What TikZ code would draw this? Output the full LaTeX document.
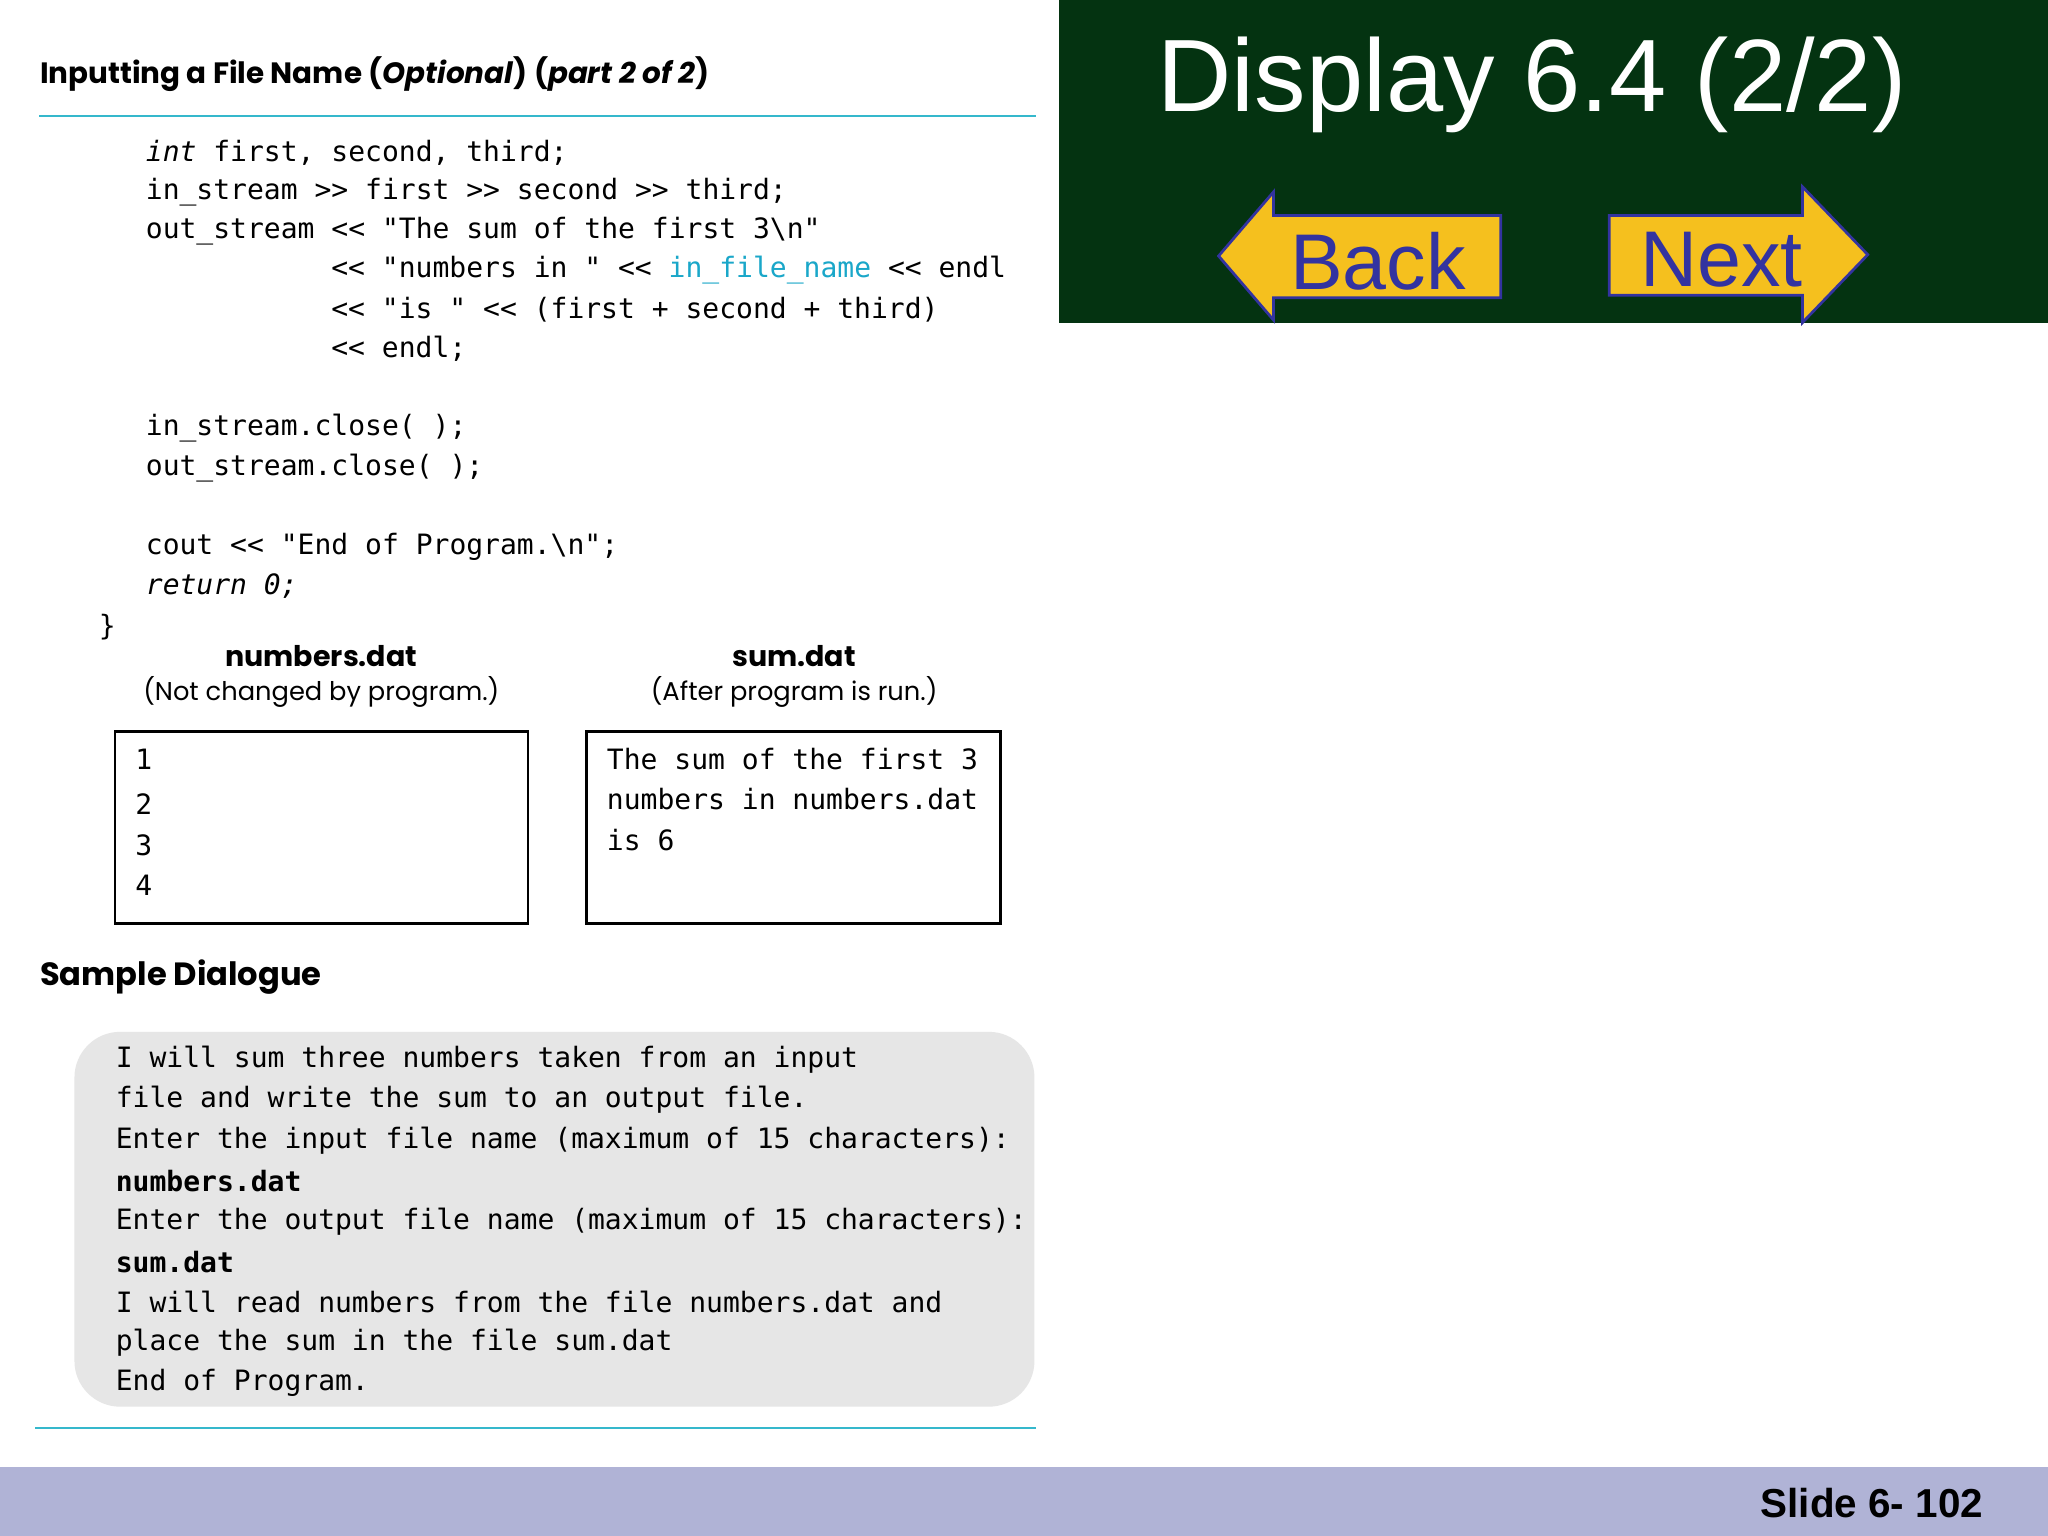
\documentclass[tikz,border=0pt]{standalone}
\usepackage{fontspec}
\setmainfont{Poppins}
\newfontfamily\cod{DejaVu Sans Mono}
\newfontfamily\ars{Liberation Sans}
\definecolor{cyanl}{HTML}{35B8CC}
\definecolor{fname}{HTML}{1AA7C9}
\definecolor{dgreen}{HTML}{043311}
\definecolor{ayel}{HTML}{F5C01E}
\definecolor{navy}{HTML}{3333A0}
\definecolor{barc}{HTML}{B0B3D6}
\definecolor{dlg}{HTML}{E6E6E6}
\begin{document}
\begin{tikzpicture}[x=0.01cm,y=-0.01cm,
  cd/.style={anchor=west,inner sep=0,font=\cod\fontsize{6.1pt}{7pt}\selectfont},
  hd/.style={anchor=west,inner sep=0,font=\bfseries\fontsize{6.4pt}{7pt}\selectfont},
  captxt/.style={inner sep=0,font=\fontsize{5.6pt}{7pt}\selectfont}]
\useasboundingbox (0,0) rectangle (1568,1176);
\fill[white] (0,0) rectangle (1568,1176);
\node[hd] (title) at (30,57) {Inputting a File Name (\textit{Optional}) (\textit{part 2 of 2})};
\draw[cyanl,line width=0.4pt] (30,89) -- (793,89);
\node[cd] (c1) at (111,117) {\textit{int} first, second, third;};
\node[cd] (c2) at (111,147) {in\_stream >> first >> second >> third;};
\node[cd] (c3) at (111,177) {out\_stream << "The sum of the first 3\textbackslash n"};
\node[cd] (c4) at (253,207) {<< "numbers in " << \textcolor{fname}{in\_file\_name} << endl};
\node[cd] (c5) at (253,237) {<< "is " << (first + second + third)};
\node[cd] (c6) at (253,267) {<< endl;};
\node[cd] (c7) at (111,328) {in\_stream.close( );};
\node[cd] (c8) at (111,358) {out\_stream.close( );};
\node[cd] (c9) at (111,419) {cout << "End of Program.\textbackslash n";};
\node[cd] (c10) at (111,449) {\textit{return 0;}};
\node[cd] (c11) at (75,480) {\}};
\node[captxt,font=\bfseries\fontsize{6.2pt}{7pt}\selectfont] (n1) at (246,502) {numbers.dat};
\node[captxt] (n2) at (246,530) {(Not changed by program.)};
\node[captxt,font=\bfseries\fontsize{6.2pt}{7pt}\selectfont] (s1) at (608,502) {sum.dat};
\node[captxt] (s2) at (608,530) {(After program is run.)};
\draw[line width=0.5pt] (88,560) rectangle (404,707);
\draw[line width=0.5pt] (449,560) rectangle (766,707);
\node[cd] (b1) at (103,581) {1};
\node[cd] (b2) at (103,616) {2};
\node[cd] (b3) at (103,647) {3};
\node[cd] (b4) at (103,678) {4};
\node[cd] (d1) at (464,581) {The sum of the first 3};
\node[cd] (d2) at (464,612) {numbers in numbers.dat};
\node[cd] (d3) at (464,643) {is 6};
\node[hd,font=\bfseries\fontsize{7pt}{8pt}\selectfont] (sd) at (30,748) {Sample Dialogue};
\fill[dlg,rounded corners=0.35cm] (57,790) rectangle (792,1077);
\node[cd] (g1) at (88,811) {I will sum three numbers taken from an input};
\node[cd] (g2) at (88,842) {file and write the sum to an output file.};
\node[cd] (g3) at (88,873) {Enter the input file name (maximum of 15 characters):};
\node[cd] (g4) at (88,904) {\bfseries numbers.dat};
\node[cd] (g5) at (88,935) {Enter the output file name (maximum of 15 characters):};
\node[cd] (g6) at (88,966) {\bfseries sum.dat};
\node[cd] (g7) at (88,997) {I will read numbers from the file numbers.dat and};
\node[cd] (g8) at (88,1028) {place the sum in the file sum.dat};
\node[cd] (g9) at (88,1059) {End of Program.};
\draw[cyanl,line width=0.4pt] (27,1093) -- (793,1093);
\fill[dgreen] (811,0) rectangle (1568,247);
\node[inner sep=0,text=white,font=\ars\fontsize{22.4pt}{26pt}\selectfont] (disp) at (1173,65) {Display 6.4 (2/2)};
\draw[navy,fill=ayel,line width=0.6pt] (933,196) -- (975,147) -- (975,165) -- (1149,165) -- (1149,228) -- (975,228) -- (975,245) -- cycle;
\draw[navy,fill=ayel,line width=0.6pt] (1430,195) -- (1380,143) -- (1380,165) -- (1232,165) -- (1232,226) -- (1380,226) -- (1380,247) -- cycle;
\node[inner sep=0,text=navy,font=\ars\fontsize{17.2pt}{20pt}\selectfont] (back) at (1055,200) {Back};
\node[inner sep=0,text=navy,font=\ars\fontsize{17.2pt}{20pt}\selectfont] (next) at (1318,199) {Next};
\fill[barc] (0,1123) rectangle (1568,1176);
\node[anchor=east,inner sep=0,font=\ars\bfseries\fontsize{8.8pt}{10pt}\selectfont] (slide) at (1519,1151) {Slide 6- 102};
\end{tikzpicture}
\end{document}
